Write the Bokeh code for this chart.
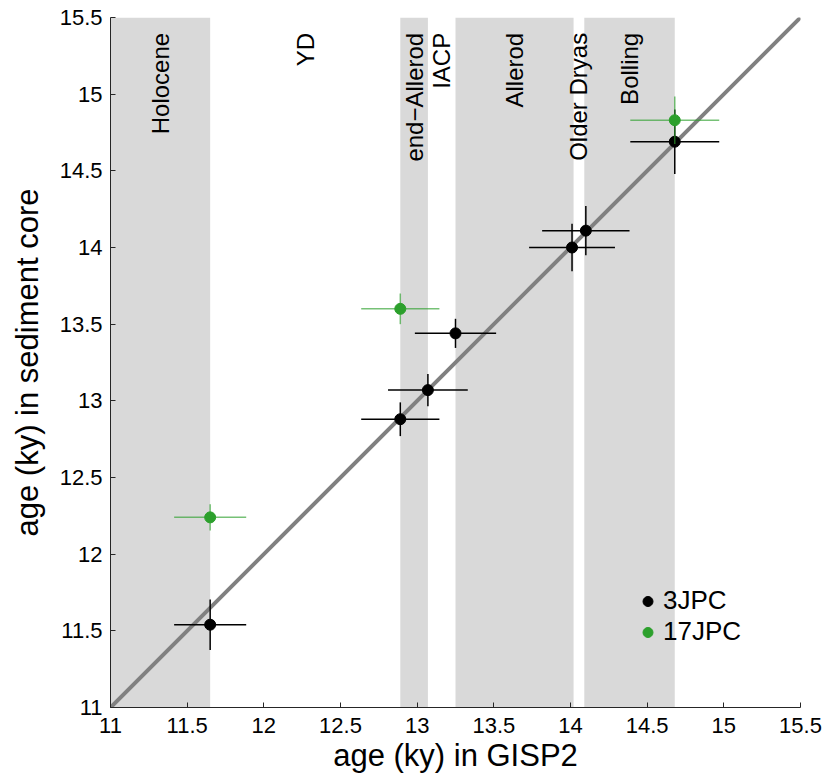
import numpy as np
from bokeh.plotting import figure
from bokeh.models import FixedTicker, Legend, LegendItem
from bokeh.core.properties import value
from bokeh.embed import file_html
from bokeh.resources import INLINE

# --- data ---
period_names = ["Holocene", "YD", "end\u2212Allerod", "IACP", "Allerod", "Older Dryas", "Bolling"]
period_start = [11.0, 11.65, 12.89, 13.07, 13.25, 14.02, 14.09]
period_end = [11.65, 12.89, 13.07, 13.25, 14.02, 14.09, 14.68]
period_shaded = [True, False, True, False, True, False, True]

x_3jpc = [11.65, 12.89, 13.07, 13.25, 14.01, 14.10, 14.68]
y_3jpc = [11.54, 12.88, 13.07, 13.44, 14.00, 14.11, 14.69]
xerr_3jpc = [0.235, 0.255, 0.26, 0.265, 0.28, 0.285, 0.29]
yerr_3jpc = [0.165, 0.11, 0.105, 0.095, 0.155, 0.16, 0.21]

x_17jpc = [11.65, 12.89, 14.68]
y_17jpc = [12.24, 13.60, 14.83]
xerr_17jpc = [0.235, 0.255, 0.29]
yerr_17jpc = [0.085, 0.10, 0.155]

one_to_one = [11.0, 15.5]

tick_values = [11, 11.5, 12, 12.5, 13, 13.5, 14, 14.5, 15, 15.5]
tick_labels = ["11", "11.5", "12", "12.5", "13", "13.5", "14", "14.5", "15", "15.5"]

FONT = "Liberation Sans"
GREEN = "#2ca02c"

p = figure(frame_width=690, frame_height=690,
           x_range=(11, 15.5), y_range=(11, 15.5),
           output_backend="svg", toolbar_location=None,
           min_border_left=110, min_border_right=29,
           min_border_top=17, min_border_bottom=76)
p.outline_line_color = None
p.grid.visible = False
p.background_fill_color = "white"
p.border_fill_color = "white"

# shaded bands
sh_l = [s for s, f in zip(period_start, period_shaded) if f]
sh_r = [e for e, f in zip(period_end, period_shaded) if f]
p.quad(left=sh_l, right=sh_r, bottom=11, top=15.5, fill_color="#d9d9d9", line_color=None)

# period labels
mid = [(s + e) / 2 for s, e in zip(period_start, period_end)]
p.text(x=mid, y=[15.40] * len(mid), text=period_names, angle=np.pi / 2,
       text_align="right", text_baseline="middle",
       text_font=value(FONT), text_font_size="24px", text_color="black")

# 1:1 line
p.line(x=one_to_one, y=one_to_one, line_color="#808080", line_width=4)

def errbars(xs, ys, xe, ye, color, alpha):
    p.segment(x0=[x - e for x, e in zip(xs, xe)], x1=[x + e for x, e in zip(xs, xe)],
              y0=ys, y1=ys, line_color=color, line_width=1.5, line_alpha=alpha)
    p.segment(x0=xs, x1=xs, y0=[y - e for y, e in zip(ys, ye)], y1=[y + e for y, e in zip(ys, ye)],
              line_color=color, line_width=1.5, line_alpha=alpha)

errbars(x_3jpc, y_3jpc, xerr_3jpc, yerr_3jpc, "black", 1.0)
r3 = p.scatter(x=x_3jpc, y=y_3jpc, size=11, fill_color="black", line_color="black")
errbars(x_17jpc, y_17jpc, xerr_17jpc, yerr_17jpc, GREEN, 0.65)
r17 = p.scatter(x=x_17jpc, y=y_17jpc, size=11, fill_color=GREEN, line_color=GREEN)

legend = Legend(items=[LegendItem(label="3JPC", renderers=[r3]),
                       LegendItem(label="17JPC", renderers=[r17])],
                location=(525, 60), padding=0, margin=0, spacing=0,
                glyph_width=25, glyph_height=30, label_height=30,
                label_standoff=3, border_line_color=None,
                background_fill_alpha=0,
                label_text_font=FONT, label_text_font_size="26px",
                label_text_color="black")
p.add_layout(legend)

for ax in (p.xaxis[0], p.yaxis[0]):
    ax.ticker = FixedTicker(ticks=tick_values)
    ax.major_label_overrides = {v: l for v, l in zip(tick_values, tick_labels)}
    ax.major_tick_in = 5
    ax.major_tick_out = 0
    ax.minor_tick_in = 0
    ax.minor_tick_out = 0
    ax.axis_line_color = "#262626"
    ax.major_tick_line_color = "#262626"
    ax.major_label_text_font = FONT
    ax.major_label_text_font_size = "22px"
    ax.major_label_text_color = "black"
    ax.axis_label_text_font = FONT
    ax.axis_label_text_font_size = "31px"
    ax.axis_label_text_font_style = "normal"
    ax.axis_label_text_color = "black"

p.xaxis.axis_label = "age (ky) in GISP2"
p.yaxis.axis_label = "age (ky) in sediment core"
p.xaxis.major_label_standoff = 10
p.xaxis.axis_label_standoff = 2
p.yaxis.major_label_standoff = 8
p.yaxis.axis_label_standoff = 12

open("out.html", "w").write(file_html(p, INLINE))
